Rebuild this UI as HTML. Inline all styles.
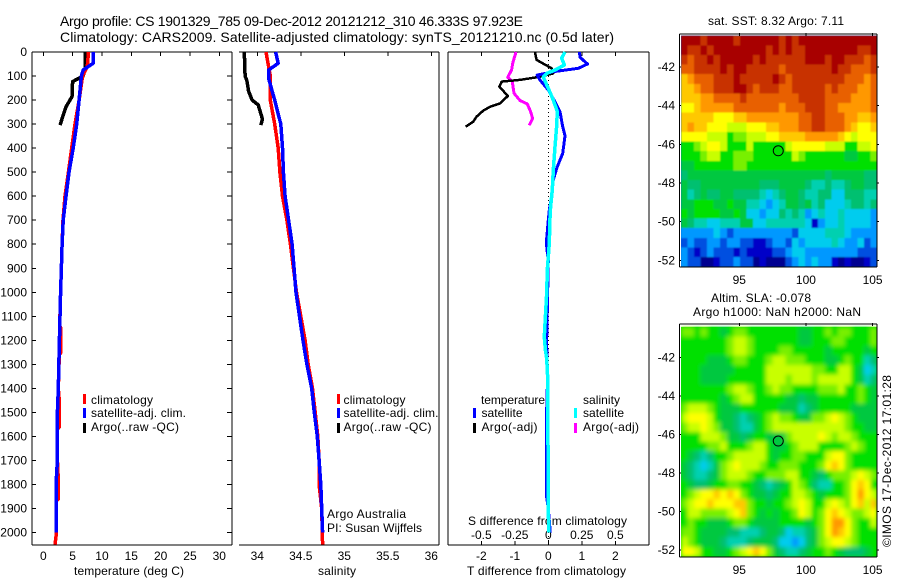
<!DOCTYPE html>
<html>
<head>
<meta charset="utf-8">
<title>Argo profile chart</title>
<style>
html,body{margin:0;padding:0;background:#fff;}
svg{display:block;}
text{font-family:"Liberation Sans",sans-serif;font-size:12px;fill:#000;}
.t14{font-size:14px;}
</style>
</head>
<body>
<svg id="chart" width="900" height="580" viewBox="0 0 900 580" xmlns="http://www.w3.org/2000/svg">
  <defs>
    <filter id="softSst" x="-5%" y="-5%" width="110%" height="110%"><feGaussianBlur stdDeviation="0.7"/></filter>
    <filter id="softSla" x="-5%" y="-5%" width="110%" height="110%"><feGaussianBlur stdDeviation="2.2"/></filter>
    <clipPath id="clipSst"><rect x="681" y="35.5" width="196" height="231"/></clipPath>
    <clipPath id="clipSla"><rect x="681" y="325.5" width="196" height="231.5"/></clipPath>
  </defs>
  <rect width="900" height="580" fill="#fff"/>
  <text class="t14" x="60" y="26" textLength="463" lengthAdjust="spacing">Argo profile: CS 1901329_785 09-Dec-2012 20121212_310 46.333S 97.923E</text>
  <text class="t14" x="60" y="42" textLength="554" lengthAdjust="spacing">Climatology: CARS2009. Satellite-adjusted climatology: synTS_20121210.nc (0.5d later)</text>
  <text x="74" y="575" textLength="110" lengthAdjust="spacing">temperature (deg C)</text>
  <text x="318" y="575" textLength="38" lengthAdjust="spacing">salinity</text>
  <text x="467" y="575" textLength="159" lengthAdjust="spacing">T difference from climatology</text>
  <text x="468" y="525" textLength="159" lengthAdjust="spacing">S difference from climatology</text>
  <text x="708" y="25" textLength="136" lengthAdjust="spacing">sat. SST: 8.32 Argo: 7.11</text>
  <text x="711" y="302" textLength="100" lengthAdjust="spacing">Altim. SLA: -0.078</text>
  <text x="693" y="316" textLength="168" lengthAdjust="spacing">Argo h1000: NaN h2000: NaN</text>
  <text transform="translate(891,547) rotate(-90)" textLength="172" lengthAdjust="spacing">©IMOS 17-Dec-2012 17:01:28</text>
  <text x="327" y="518" textLength="79" lengthAdjust="spacing">Argo Australia</text>
  <text x="327" y="532" textLength="95" lengthAdjust="spacing">PI: Susan Wijffels</text>
  <g id="layer"></g>
</svg>
<script>
// ---------- chart data ----------
const depthTicks = [0,100,200,300,400,500,600,700,800,900,1000,1100,1200,1300,1400,1500,1600,1700,1800,1900,2000];
const tempTicks = [0,5,10,15,20,25,30];
const salTicks = [34,34.5,35,35.5,36];
const tDiffTicks = [-2,-1,0,1,2];
const sDiffTicks = [-0.5,-0.25,0,0.25,0.5];
const sDiffLabels = ['-0.5','-0.25','0','0.25','0.5'];
const lonTicks = [95,100,105];
const latTicks = [-42,-44,-46,-48,-50,-52];

const tempRedDepth = [0,60,100,200,300,400,500,600,700,800,1000,1140,1150,1250,1260,1400,1450,1560,1570,1700,1780,1860,1870,2000,2050];
const tempRedValue = [7.7,7.5,6.7,6.1,5.4,4.84,4.27,3.7,3.36,3.2,2.95,2.8,3.0,3.0,2.72,2.56,2.72,2.72,2.4,2.4,2.55,2.55,2.17,2.25,2.0];
const tempBlueDepth = [0,47,75,100,200,300,400,500,600,700,800,1000,1200,1400,1500,1700,1800,2000];
const tempBlueValue = [8.5,8.5,6.8,6.5,6.1,5.7,5.1,4.38,3.87,3.4,3.2,2.95,2.75,2.56,2.4,2.4,2.17,2.17];
const tempArgoDepth = [0,75,100,123,186,228,304];
const tempArgoValue = [7.1,7.1,6.8,5.0,4.9,3.87,2.85];

const salRedDepth = [0,100,200,300,400,500,600,700,800,1000,1200,1300,1400,1500,1600,1700,1800,1900,2050];
const salRedValue = [34.10,34.15,34.15,34.20,34.24,34.26,34.29,34.34,34.38,34.45,34.55,34.585,34.635,34.665,34.695,34.71,34.71,34.74,34.75];
const salBlueDepth = [0,47,75,110,200,300,400,500,600,700,800,1000,1200,1300,1400,1500,1600,1700,1800,1900,2000];
const salBlueValue = [34.21,34.24,34.13,34.13,34.20,34.27,34.29,34.30,34.32,34.36,34.40,34.445,34.525,34.57,34.625,34.655,34.69,34.71,34.73,34.74,34.75];
const salArgoDepth = [0,100,120,163,200,220,280,304];
const salArgoValue = [33.85,33.86,33.88,33.90,33.94,34.01,34.06,34.04];

const dTempSatDepth = [0,22,50,68,82,96,116,158,207,248,311,349,422,484,533,602,657,699,795,870,1074,1212,1350,1500,1850,1900,2000];
const dTempSatValue = [0.93,0.945,1.17,0.9,0.15,-0.33,-0.25,0,0.2,0.35,0.43,0.5,0.43,0.25,0.15,0.1,0.03,0,-0.06,0,-0.03,-0.05,-0.02,-0.05,-0.05,0,0.06];
const dTempArgoDepth = [0,33,68,89,103,116,123,144,183,214,228,244,269,290,311];
const dTempArgoValue = [-0.4,-0.35,0.1,0.15,-0.25,-0.85,-1.39,-1.46,-1.21,-1.44,-1.74,-1.94,-2.14,-2.24,-2.47];
const dSalSatDepth = [0,26,54,75,89,105,151,200,248,311,394,491,574,644,699,796,907,1004,1100,1185,1240,1275,1350,1434,1781,1920,2000];
const dSalSatValue = [0.124,0.1,0.12,0.05,-0.012,-0.037,0,0.037,0.067,0.062,0.05,0.037,0.03,0.017,0.012,0.0075,-0.0075,-0.012,-0.022,-0.03,-0.022,-0.012,-0.005,-0.005,0,0,0.005];
const dSalArgoDepth = [0,47,75,105,123,172,202,216,248,276,305];
const dSalArgoValue = [-0.241,-0.266,-0.274,-0.303,-0.269,-0.256,-0.211,-0.157,-0.132,-0.117,-0.142];

const argoLon = 97.923;
const argoLat = -46.333;

const sstLevels = [
[16,16,16,15,16,16,16,16,15,16,16,16,16,16,16,15,16,15,16,16,16,16,16,16,16,16,16,16,16,16],
[16,15,15,16,15,16,16,16,16,16,16,16,16,15,16,15,16,15,15,16,16,16,16,16,16,16,16,15,15,16],
[15,14,15,15,16,15,16,16,16,16,16,15,16,15,15,15,15,15,15,16,16,16,15,16,16,15,15,15,14,15],
[14,14,15,15,15,15,16,15,16,16,15,15,15,15,15,14,15,15,15,15,15,15,15,16,15,15,14,14,14,15],
[12,13,14,14,14,15,15,15,16,15,15,15,15,15,16,15,14,15,15,15,15,15,15,15,15,14,14,14,13,14],
[12,12,13,14,14,15,15,15,16,16,15,14,15,15,15,14,14,15,15,15,15,15,14,15,14,14,14,13,13,14],
[12,12,12,13,13,14,14,14,14,15,14,14,14,14,14,14,14,14,15,15,15,15,14,14,14,14,13,13,13,14],
[11,11,12,13,13,13,13,13,14,14,14,14,14,14,14,13,14,14,14,15,15,15,14,14,13,13,13,13,13,14],
[12,12,12,12,12,11,11,11,12,12,13,13,13,13,13,13,13,13,14,14,15,15,14,14,14,13,13,12,12,13],
[12,13,12,12,11,11,11,10,10,10,11,11,11,12,12,13,13,13,14,14,15,15,14,14,14,13,12,11,11,12],
[11,11,11,11,10,10,10,8,9,9,10,10,10,11,11,12,12,12,12,13,13,13,13,13,12,11,10,11,11,11],
[8,8,9,10,11,11,10,8,8,8,10,8,8,8,8,8,10,11,11,11,11,11,10,10,10,8,8,10,10,11],
[8,8,8,9,10,10,8,8,9,9,9,8,8,8,8,8,8,10,9,8,8,8,8,8,8,7,7,8,8,9],
[7,7,8,8,8,8,8,8,9,9,8,8,8,8,8,8,8,8,8,8,8,8,8,8,8,8,8,8,8,8],
[6,7,7,7,7,7,7,7,7,7,7,7,7,7,7,7,7,7,7,7,7,7,6,7,7,7,7,7,6,6],
[7,6,6,7,7,7,7,7,7,7,7,7,6,6,6,7,7,7,7,6,5,5,6,5,5,6,7,7,6,6],
[7,5,6,7,6,6,7,7,6,6,6,6,5,4,5,6,7,7,6,5,5,6,6,4,4,6,6,6,5,5],
[7,7,8,8,8,7,7,8,7,7,5,5,4,3,4,5,7,7,6,7,5,6,4,4,4,5,6,6,5,6],
[8,7,8,8,8,8,7,7,8,7,4,4,3,4,4,6,5,6,5,3,4,5,4,4,5,4,4,4,4,3],
[7,6,5,5,4,4,5,5,5,7,7,4,4,5,5,5,5,5,5,4,1,3,4,4,5,4,4,4,4,3],
[3,3,3,3,3,4,3,2,3,3,3,3,3,3,3,3,3,2,4,4,4,4,5,5,5,4,3,3,3,3],
[2,3,2,2,3,3,2,3,3,2,2,1,1,2,3,3,2,4,3,4,4,4,4,5,4,3,3,4,2,3],
[3,2,1,2,3,2,2,2,1,2,1,1,1,1,2,2,3,4,4,3,3,3,3,3,3,3,3,2,2,2],
[3,2,2,0,0,1,2,2,3,2,2,0,1,0,0,0,2,3,4,3,4,3,3,1,0,1,0,0,1,2]
];

const slaLevels = [
[9,9,8,9,8,8,7,8,9,9,8,8,8,8,8,8,8,8,7,7,8,8,9,8,9,9,8,8,8,9],
[8,8,8,8,8,8,8,9,10,10,9,8,8,8,8,8,8,8,7,7,8,8,8,9,9,8,8,8,8,9],
[8,8,8,8,8,8,8,9,10,10,9,8,8,8,8,9,9,8,8,8,8,8,7,8,8,8,8,8,7,8],
[8,8,8,8,7,7,7,8,9,9,8,8,8,9,10,10,9,9,9,8,8,8,7,7,8,9,8,8,5,6],
[8,8,8,7,7,7,7,7,8,8,8,8,8,10,10,10,10,10,10,10,9,9,8,8,10,10,8,7,4,5],
[8,8,8,7,7,7,7,8,8,8,8,8,8,10,10,10,9,10,10,10,9,10,10,10,10,10,8,7,5,6],
[8,8,8,8,8,8,8,9,10,10,9,8,8,9,10,9,9,8,8,8,8,9,9,9,10,8,8,9,8,7],
[8,8,8,8,8,8,7,8,9,10,10,8,8,8,8,8,7,7,6,7,7,8,8,8,8,8,8,9,8,7],
[9,10,10,10,9,8,7,7,7,8,8,8,8,8,8,7,7,7,5,6,7,8,8,8,8,8,7,7,7,7],
[10,11,11,11,10,8,7,7,6,5,6,7,8,9,10,9,9,8,7,7,9,9,10,11,10,9,8,7,7,7],
[9,10,10,11,10,9,7,7,6,5,5,7,8,9,10,10,10,10,10,10,10,10,10,10,10,9,8,8,7,7],
[8,8,8,10,10,10,9,7,7,6,7,8,8,7,7,7,9,10,10,10,10,11,10,9,10,10,9,8,8,8],
[8,8,8,8,9,9,10,8,8,8,9,10,10,8,7,7,8,9,10,10,10,8,8,8,8,9,10,9,8,8],
[8,7,6,5,6,8,8,9,10,10,10,10,10,8,7,8,8,9,9,8,8,8,10,11,11,9,8,8,8,8],
[7,6,5,4,5,7,9,10,11,10,10,10,9,8,8,9,9,9,8,8,8,9,11,12,11,9,8,8,8,8],
[7,6,5,5,6,7,9,10,10,10,9,8,8,9,9,9,10,10,8,8,7,6,8,9,9,9,10,11,10,9],
[8,7,6,6,7,8,8,9,9,8,8,7,6,5,6,7,8,10,9,8,6,5,5,8,8,9,11,12,11,8],
[8,9,10,11,11,12,11,12,11,9,8,7,7,6,7,8,8,10,10,9,8,7,8,8,8,9,11,13,11,10],
[9,10,11,11,12,11,11,11,12,12,9,8,8,7,8,8,9,10,11,10,8,8,10,11,10,9,11,12,10,12],
[8,10,10,9,9,9,9,10,11,12,9,8,7,8,7,8,8,9,11,10,8,9,11,12,11,10,9,9,10,11],
[8,9,8,8,7,7,7,8,9,9,8,7,7,7,7,8,8,8,8,7,8,9,11,13,13,11,9,8,8,10],
[9,9,8,7,7,7,7,6,6,5,5,5,6,7,7,6,4,5,5,6,7,9,11,13,12,11,9,8,8,8],
[10,9,8,7,7,7,6,5,5,5,6,7,7,7,6,4,4,3,4,6,7,9,10,11,11,10,9,8,8,8],
[11,11,10,8,8,7,7,8,9,10,11,12,11,9,7,6,5,5,6,7,8,8,9,8,7,6,6,6,7,8]
];

// ---------- axis functions ----------
const yDepth = d => 52 + d * 0.2403;
const xTemp = t => 43.3 + 5.867 * t;
const xSal = s => 257.3 + 87 * (s - 34);
const xDT = t => 548.3 + 33.5 * t;
const xDS = s => 548.3 + 134 * s;
const xLon = lon => 739.3 + 13.33 * (lon - 95);
const yLatSst = lat => 67 + 19.33 * (-42 - lat);
const yLatSla = lat => 357.7 + 19.23 * (-42 - lat);

const palette = ['#000090','#0000c8','#0050e0','#0098ff','#00ccee','#00d0b0','#00c070','#00c840','#00e000','#78f000','#c8ff00','#ffff00','#ffc800','#ff9800','#e86000','#c83000','#a80000'];

// ---------- drawing helpers ----------
const NS = 'http://www.w3.org/2000/svg';
const layer = document.getElementById('layer');
function mk(tag, name, parent){
  const el = document.createElementNS(NS, tag);
  
  
  (parent || layer).appendChild(el);
  return el;
}
function line(name,x1,y1,x2,y2,w,parent){
  const l = mk('line', name, parent);
  l.setAttribute('x1',x1);l.setAttribute('y1',y1);l.setAttribute('x2',x2);l.setAttribute('y2',y2);
  l.setAttribute('stroke','#000');l.setAttribute('stroke-width',w||1);
  l.setAttribute('shape-rendering','crispEdges');
  return l;
}
function label(name,str,x,y,anchor,len){
  const t = mk('text', name);
  t.setAttribute('x',x);t.setAttribute('y',y);
  if(anchor) t.setAttribute('text-anchor',anchor);
  if(len){t.setAttribute('textLength',len);t.setAttribute('lengthAdjust','spacing');}
  t.textContent = str;
  return t;
}
function rect(name,x,y,w,h,fill,parent){
  const r = mk('rect', name, parent);
  r.setAttribute('x',x);r.setAttribute('y',y);r.setAttribute('width',w);r.setAttribute('height',h);
  r.setAttribute('fill',fill);r.setAttribute('shape-rendering','crispEdges');
  return r;
}
function curve(name,depths,values,xf,color,w){
  const p = mk('path', name);
  let dstr = '';
  for(let i=0;i<depths.length;i++){
    dstr += (i?'L':'M') + xf(values[i]).toFixed(1) + ' ' + yDepth(depths[i]).toFixed(1);
  }
  p.setAttribute('d',dstr);
  p.setAttribute('fill','none');
  p.setAttribute('stroke',color);
  p.setAttribute('stroke-width',w);
  p.setAttribute('shape-rendering','crispEdges');
  p.setAttribute('stroke-linejoin','round');
  return p;
}
function heatmap(name,levels,yLat,topLat,filterId,clipId,under){
  const clip = mk('g', name + '-clip');
  clip.setAttribute('clip-path','url(#' + clipId + ')');
  rect(name + '-underlay',681,yLat(topLat),196,232,under,clip);
  const g = mk('g', name, clip);
  g.setAttribute('filter','url(#' + filterId + ')');
  const lonL = 90.63, lonR = 105.33, latB = -52.33;
  const rows = levels.length;
  levels.forEach((row,r)=>{
    const cols = row.length;
    row.forEach((v,c)=>{
      const x0 = xLon(lonL + (lonR-lonL)*c/cols), x1 = xLon(lonL + (lonR-lonL)*(c+1)/cols);
      const y0 = yLat(topLat + (latB-topLat)*r/rows), y1 = yLat(topLat + (latB-topLat)*(r+1)/rows);
      rect('map-cell',x0.toFixed(2),y0.toFixed(2),(x1-x0+0.5).toFixed(2),(y1-y0+0.5).toFixed(2),palette[v],g);
    });
  });
}

// ---------- panel frames ----------
const P1 = {l:32,r:232,t:52,b:545};
const P2 = {l:239,r:439,t:52,b:545};
const P3 = {l:448,r:649,t:52,b:545};

// temperature panel
line('temperature-panel-left-spine',P1.l,P1.t,P1.l,P1.b);
line('temperature-panel-right-spine',P1.r,P1.t,P1.r,P1.b);
line('temperature-panel-top-spine',P1.l,P1.t,P1.r,P1.t);
line('temperature-panel-bottom-spine',P1.l,P1.b,P1.r,P1.b);
depthTicks.forEach(d=>{
  const y = yDepth(d);
  line('depth-tick-left',P1.l,y,P1.l+4,y);
  line('depth-tick-right',P1.r-5,y,P1.r,y);
  label('depth-tick-label',String(d),27,y+4,'end');
});
tempTicks.forEach(t=>{
  line('temperature-tick',xTemp(t),P1.t,xTemp(t),P1.t+4);
  label('temperature-tick-label',String(t),xTemp(t),560,'middle');
});

// salinity panel
line('salinity-panel-right-spine',P2.r,P2.t,P2.r,P2.b);
line('salinity-panel-top-spine',P2.l,P2.t,P2.r,P2.t);
line('salinity-panel-bottom-spine',P2.l,P2.b,P2.r,P2.b);
salTicks.forEach(s=>{
  line('salinity-tick',xSal(s),P2.t,xSal(s),P2.t+4);
  label('salinity-tick-label',String(s),xSal(s),560,'middle');
});

// difference panel
line('difference-panel-left-spine',P3.l,P3.t,P3.l,P3.b);
line('difference-panel-right-spine',P3.r,P3.t,P3.r,P3.b);
line('difference-panel-top-spine',P3.l,P3.t,P3.r,P3.t);
line('difference-panel-bottom-spine',P3.l,P3.b,P3.r,P3.b);
const zero = line('zero-difference-line',xDT(0),P3.t,xDT(0),P3.b);
zero.setAttribute('stroke-dasharray','1 3');
tDiffTicks.forEach(t=>{
  line('t-difference-tick-top',xDT(t),P3.t,xDT(t),P3.t+4);
  line('t-difference-tick-bottom',xDT(t),P3.b-4,xDT(t),P3.b);
  label('t-difference-tick-label',String(t),xDT(t),560,'middle');
});
sDiffTicks.forEach((s,i)=>{
  label('s-difference-tick-label',sDiffLabels[i],xDS(s),539,'middle');
});

// series
curve('temperature-argo-line',tempArgoDepth,tempArgoValue,xTemp,'#000',3.5);
curve('temperature-climatology-line',tempRedDepth,tempRedValue,xTemp,'#f00',3.5);
curve('temperature-satellite-line',tempBlueDepth,tempBlueValue,xTemp,'#00f',3.5);
curve('salinity-argo-line',salArgoDepth,salArgoValue,xSal,'#000',3.5);
curve('salinity-climatology-line',salRedDepth,salRedValue,xSal,'#f00',3.5);
curve('salinity-satellite-line',salBlueDepth,salBlueValue,xSal,'#00f',3.5);
curve('salinity-difference-argo-line',dSalArgoDepth,dSalArgoValue,xDS,'#f0f',3);
curve('temperature-difference-argo-line',dTempArgoDepth,dTempArgoValue,xDT,'#000',2.5);
curve('temperature-difference-satellite-line',dTempSatDepth,dTempSatValue,xDT,'#00f',3);
curve('salinity-difference-satellite-line',dSalSatDepth,dSalSatValue,xDS,'#0ff',3.5);

// legends
rect('legend-swatch-climatology',83,394,3,10,'#f00');
rect('legend-swatch-satellite',83,408,3,10,'#00f');
rect('legend-swatch-argo',83,423,3,10,'#000');
label('legend-label-climatology','climatology',91,404,null,62);
label('legend-label-satellite','satellite-adj. clim.',91,417,null,95);
label('legend-label-argo','Argo(..raw -QC)',91,431,null,88);

rect('legend-swatch-climatology',337,394,3,10,'#f00');
rect('legend-swatch-satellite',337,408,3,10,'#00f');
rect('legend-swatch-argo',337,423,3,10,'#000');
label('legend-label-climatology','climatology',343.5,404,null,62);
label('legend-label-satellite','satellite-adj. clim.',343.5,417,null,95);
label('legend-label-argo','Argo(..raw -QC)',343.5,431,null,88);

label('legend-heading-temperature','temperature',481,404,null,64);
label('legend-heading-salinity','salinity',583,404,null,37);
rect('legend-swatch-t-satellite',473,408,3,10,'#00f');
rect('legend-swatch-t-argo',473,423,3,10,'#000');
rect('legend-swatch-s-satellite',574,408,3,10,'#0ff');
rect('legend-swatch-s-argo',574,423,3,10,'#f0f');
label('legend-label-t-satellite','satellite',481.5,417,null,41);
label('legend-label-t-argo','Argo(-adj)',481.5,431,null,56);
label('legend-label-s-satellite','satellite',583,417,null,41);
label('legend-label-s-argo','Argo(-adj)',583,431,null,56);

// maps
heatmap('sst-heatmap',sstLevels,yLatSst,-40.38,'softSst','clipSst','#0060e0');
heatmap('sla-heatmap',slaLevels,yLatSla,-40.4,'softSla','clipSla','#00e000');

function mapFrame(prefix,top,bottom,yLat,labelBase){
  line(prefix+'-left-spine',679.5,top,679.5,bottom);
  line(prefix+'-right-spine',877,top,877,bottom);
  line(prefix+'-top-spine',679.5,top,877,top);
  line(prefix+'-bottom-spine',679.5,bottom,877,bottom);
  latTicks.forEach(lat=>{
    const y = yLat(lat);
    line(prefix+'-lat-tick-left',679.5,y,681,y);
    line(prefix+'-lat-tick-right',877,y,879,y);
    label(prefix+'-lat-tick-label',String(lat),675,y+4,'end');
  });
  lonTicks.forEach(lon=>{
    line(prefix+'-lon-tick',xLon(lon),top-1,xLon(lon),top+2);
    label(prefix+'-lon-tick-label',String(lon),xLon(lon),labelBase,'middle');
  });
}
mapFrame('sst-map',34,267,yLatSst,284);
mapFrame('sla-map',324,557,yLatSla,574);

function marker(name,yLat){
  const c = mk('ellipse', name);
  c.setAttribute('cx',xLon(argoLon));
  c.setAttribute('cy',yLat(argoLat));
  c.setAttribute('rx',5);
  c.setAttribute('ry',5);
  c.setAttribute('fill','none');
  c.setAttribute('stroke','#000');
  c.setAttribute('stroke-width',1);
}
marker('sst-argo-location-marker',yLatSst);
marker('sla-argo-location-marker',yLatSla);
</script>
</body>
</html>
